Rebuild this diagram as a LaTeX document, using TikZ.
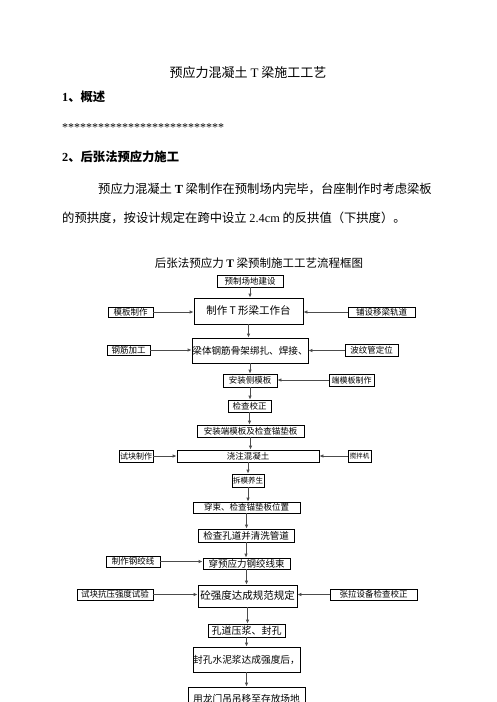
\documentclass[tikz,border=0pt]{standalone}
\usepackage{fontspec}
\setmainfont{Liberation Serif}
\newfontfamily\cjk{Noto Sans CJK SC}
\usetikzlibrary{arrows.meta}

\tikzstyle{stepbox} = [draw=black, fill=white, line width=0.8pt,
    rectangle, inner sep=0pt, font=\cjk\fontsize{8.5}{9}\selectfont]
\tikzstyle{bigbox} = [stepbox, font=\cjk\fontsize{10.5}{11}\selectfont]
\tikzstyle{flowline} = [draw=black!70, line width=0.8pt, -{Latex[length=4pt,width=3.5pt]}]
\tikzstyle{plain} = [inner sep=0pt, font=\cjk\fontsize{12.3}{13}\selectfont]
\tikzstyle{heading} = [plain, anchor=west, font=\cjk\bfseries\fontsize{12.3}{13}\selectfont]

\begin{document}
\begin{tikzpicture}[x=1pt,y=-1pt]
\useasboundingbox (0,0) rectangle (496,702);
% page text
\node[plain, font=\cjk\fontsize{13}{14}\selectfont] (title) at (248,73) {预应力混凝土 {\rmfamily T} 梁施工工艺};
\node[heading] (sec1) at (62,97) {{\rmfamily\bfseries 1}、概述};
\node[plain, anchor=west, font=\rmfamily\fontsize{12}{12}\selectfont] (stars) at (62,128) {***************************};
\node[heading] (sec2) at (62,157) {{\rmfamily\bfseries 2}、后张法预应力施工};
\node[plain, anchor=west] (para1) at (98,189) {预应力混凝土\ {\rmfamily\bfseries T}\ 梁制作在预制场内完毕，台座制作时考虑梁板};
\node[plain, anchor=west] (para2) at (62,218) {的预拱度，按设计规定在跨中设立 {\rmfamily 2.4cm} 的反拱值（下拱度）。};
\node[plain, font=\cjk\fontsize{11.5}{12}\selectfont] (charttitle) at (259,263) {后张法预应力 {\rmfamily\bfseries T} 梁预制施工工艺流程框图};

% main column
\node[stepbox, minimum width=66pt, minimum height=12pt] (site) at (250,281) {预制场地建设};
\node[bigbox, minimum width=109pt, minimum height=26pt] (bench) at (248.5,311) {制作 T 形梁工作台};
\node[bigbox, minimum width=116pt, minimum height=25pt, font=\cjk\fontsize{9.6}{10}\selectfont] (rebar) at (250,350.5) {梁体钢筋骨架绑扎、焊接、};
\node[stepbox, minimum width=54pt, minimum height=13pt] (sideform) at (250,380.5) {安装侧模板};
\node[stepbox, minimum width=43pt, minimum height=12pt] (check) at (249.5,406) {检查校正};
\node[stepbox, minimum width=107pt, minimum height=12pt] (endform) at (250.5,431) {安装端模板及检查锚垫板};
\node[stepbox, minimum width=142pt, minimum height=12pt] (pour) at (248,456) {浇注混凝土};
\node[stepbox, minimum width=32pt, minimum height=13pt, font=\cjk\fontsize{7.5}{8}\selectfont] (cure) at (248,480.5) {拆模养生};
\node[stepbox, minimum width=107pt, minimum height=11pt] (thread) at (246.5,507.5) {穿束、检查锚垫板位置};
\node[stepbox, minimum width=96pt, minimum height=13pt, font=\cjk\fontsize{9.5}{10}\selectfont] (clean) at (246,535.5) {检查孔道并清洗管道};
\node[stepbox, minimum width=87pt, minimum height=11pt, font=\cjk\fontsize{9.5}{10}\selectfont] (tendon) at (246.5,563.5) {穿预应力钢绞线束};
\node[bigbox, minimum width=99pt, minimum height=22pt] (strength) at (247.5,596) {砼强度达成规范规定};
\node[stepbox, minimum width=77pt, minimum height=13pt, font=\cjk\fontsize{10}{10}\selectfont] (grout) at (246.5,630.5) {孔道压浆、封孔};
\node[bigbox, minimum width=107pt, minimum height=25pt, font=\cjk\fontsize{9.7}{10}\selectfont] (seal) at (246.5,659.5) {封孔水泥浆达成强度后，};
\node[bigbox, minimum width=117pt, minimum height=23pt, font=\cjk\fontsize{9.7}{10}\selectfont] (lift) at (246.5,698.5) {用龙门吊吊移至存放场地};

% side boxes
\node[stepbox, minimum width=45pt, minimum height=10pt] (formwork) at (130.5,312) {模板制作};
\node[stepbox, minimum width=67pt, minimum height=10pt] (track) at (381.5,312) {铺设移梁轨道};
\node[stepbox, minimum width=43pt, minimum height=10pt] (rebarcut) at (128.5,350) {钢筋加工};
\node[stepbox, minimum width=53pt, minimum height=12pt] (duct) at (371.5,350.5) {波纹管定位};
\node[stepbox, minimum width=45pt, minimum height=12pt, font=\cjk\fontsize{8}{8}\selectfont] (formmake) at (351.5,380) {端模板制作};
\node[stepbox, minimum width=34pt, minimum height=12pt, font=\cjk\fontsize{8}{8}\selectfont] (cube) at (136,456) {试块制作};
\node[stepbox, minimum width=23pt, minimum height=12pt, font=\cjk\fontsize{6.5}{7}\selectfont] (mixer) at (359.5,456) {搅拌机};
\node[stepbox, minimum width=54pt, minimum height=11pt] (strand) at (133,561.5) {制作钢绞线};
\node[stepbox, minimum width=76pt, minimum height=11pt] (test) at (115,594.5) {试块抗压强度试验};
\node[stepbox, minimum width=87pt, minimum height=11pt] (jack) at (373.5,594.5) {张拉设备检查校正};

% spine arrows
\foreach \a/\b in {site/bench, bench/rebar, rebar/sideform, sideform/check, check/endform,
    endform/pour, pour/cure, cure/thread, thread/clean, clean/tendon, tendon/strength,
    strength/grout, grout/seal, seal/lift}
  \draw[flowline] (\a.south) -- (\a.south |- \b.north);

% arrows from the left
\foreach \a/\b in {formwork/bench, rebarcut/rebar, cube/pour, strand/tendon, test/strength}
  \draw[flowline] (\a.east) -- (\a.east -| \b.west);
% arrows from the right
\foreach \a/\b in {track/bench, duct/rebar, formmake/sideform, mixer/pour, jack/strength}
  \draw[flowline] (\a.west) -- (\a.west -| \b.east);
\end{tikzpicture}
\end{document}
